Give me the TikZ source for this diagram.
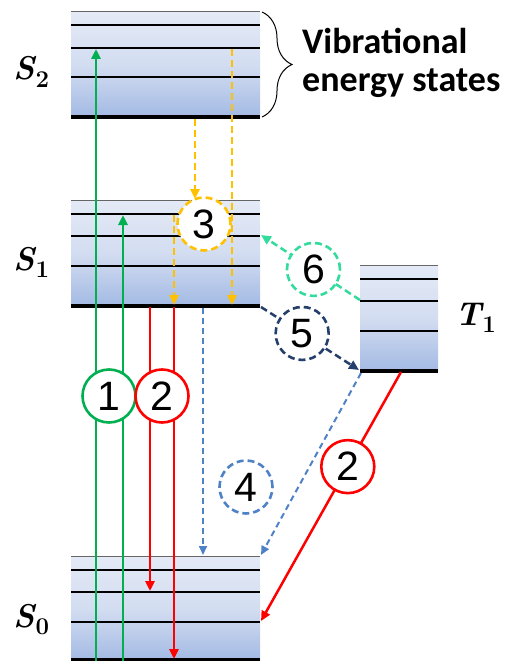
\documentclass[tikz,border=0pt]{standalone}
\usepackage{fontspec}
\setmainfont{Liberation Sans}
\newfontfamily\calib{Carlito}
\newfontfamily\lmr{Latin Modern Roman}
\usetikzlibrary{arrows.meta,decorations.pathreplacing,calc}
\definecolor{cgreen}{HTML}{00B050}
\definecolor{cred}{HTML}{FF0000}
\definecolor{cyel}{HTML}{FFC000}
\definecolor{clblue}{HTML}{4F81C6}
\definecolor{cdblue}{HTML}{243F6B}
\definecolor{cteal}{HTML}{33DC9C}
\definecolor{gtop}{HTML}{E4EAF6}
\definecolor{gmid}{HTML}{D3DDF1}
\definecolor{gbot}{HTML}{A3BAE4}
\newcommand\statename[2]{{\fontsize{33}{33}\selectfont\itshape #1}\kern1pt\raisebox{-7pt}{\fontsize{24}{24}\selectfont #2}}
\tikzset{
  lvlbox/.style={top color=gtop, bottom color=gbot, middle color=gmid, draw=none},
  lvlfaint/.style={line width=1pt, draw=black!60},
  lvlthin/.style={line width=1.4pt, draw=black},
  lvlmid/.style={line width=2.4pt, draw=black},
  lvlbase/.style={line width=3.4pt, draw=black},
  tip/.style={-{Triangle[length=10pt,width=9pt]}},
  solidarrow/.style={tip, line width=2.5pt},
  dasharrow/.style={-{Triangle[length=10pt,width=9pt]}, line width=2.5pt, dash pattern=on 7pt off 4pt},
  thindash/.style={-{Triangle[length=9pt,width=8pt]}, line width=2pt, dash pattern=on 6pt off 4pt},
  numcirc/.style={circle, minimum size=53pt, inner sep=0pt, fill=white, line width=2.6pt, font=\fontsize{41}{41}\selectfont},
  dashcirc/.style={numcirc, dash pattern=on 7pt off 4pt},
  statelab/.style={anchor=base west, inner sep=0pt, font=\lmr\bfseries},
  viblab/.style={anchor=base west, inner sep=0pt, font=\calib\bfseries\fontsize{36}{36}\selectfont},
}
\begin{document}
\begin{tikzpicture}[x=1pt,y=-1pt]
\useasboundingbox (0,0) rectangle (506,661);
% ---------- level blocks ----------
% S2
\shade[lvlbox] (71,12) rectangle (260,117);
\draw[lvlfaint] (71,12) -- (260,12);
\draw[lvlthin] (71,25) -- (260,25);
\draw[lvlmid] (71,48) -- (260,48);
\draw[lvlmid] (71,77) -- (260,77);
\draw[lvlbase] (71,117) -- (260,117);
% S1
\shade[lvlbox] (71,200) rectangle (260,306);
\draw[lvlfaint] (71,200) -- (260,200);
\draw[lvlthin] (71,214) -- (260,214);
\draw[lvlmid] (71,236) -- (260,236);
\draw[lvlmid] (71,266) -- (260,266);
\draw[lvlbase] (71,306) -- (260,306);
% T1
\shade[lvlbox] (360,265) rectangle (438,371);
\draw[lvlfaint] (360,265) -- (438,265);
\draw[lvlthin] (360,279) -- (438,279);
\draw[lvlmid] (360,301) -- (438,301);
\draw[lvlmid] (360,331) -- (438,331);
\draw[lvlbase] (360,371) -- (438,371);
% S0
\shade[lvlbox] (71,556) rectangle (260,661);
\draw[lvlfaint] (71,556) -- (260,556);
\draw[lvlthin] (71,570) -- (260,570);
\draw[lvlmid] (71,592) -- (260,592);
\draw[lvlmid] (71,622) -- (260,622);
\draw[lvlbase] (71,660) -- (260,660);
% ---------- labels ----------
\node[statelab] (s2lab) at (13,80) {\statename{S}{2}};
\node[statelab] (s1lab) at (13,270) {\statename{S}{1}};
\node[statelab] (s0lab) at (13,627) {\statename{S}{0}};
\node[statelab] (t1lab) at (455,325) {\statename{T}{1}};
\node[viblab] (vib1) at (302,53) {Vibrational};
\node[viblab] (vib2) at (302,92) {energy states};
\coordinate (bra) at (262,12);
\coordinate (brb) at (262,117);
\draw[decorate, decoration={brace, amplitude=30pt}, line width=1pt] (bra) -- (brb);
% ---------- coordinates ----------
\coordinate (g1a) at (96,661);   \coordinate (g1b) at (96,49);
\coordinate (g2a) at (123,661);  \coordinate (g2b) at (123,215);
\coordinate (r1a) at (150,307);  \coordinate (r1b) at (150,591);
\coordinate (r2a) at (174,307);  \coordinate (r2b) at (174,659);
\coordinate (y1a) at (195,119);  \coordinate (y1b) at (195,199);
\coordinate (y2a) at (232,49);   \coordinate (y2b) at (232,305);
\coordinate (y3a) at (174,215);  \coordinate (y3b) at (174,305);
\coordinate (b4a) at (203,308);  \coordinate (b4b) at (203,555);
\coordinate (bda) at (361,373);  \coordinate (bdb) at (261,555);
\coordinate (d5a) at (261,307);  \coordinate (d5b) at (359,370);
\coordinate (t6a) at (360,300);  \coordinate (t6b) at (261,235);
\coordinate (rta) at (401,372);  \coordinate (rtb) at (261,621);
% ---------- transitions ----------
\draw[solidarrow, cgreen] (g1a) -- (g1b);
\draw[solidarrow, cgreen] (g2a) -- (g2b);
\draw[solidarrow, cred] (r1a) -- (r1b);
\draw[solidarrow, cred] (r2a) -- (r2b);
\draw[dasharrow, cyel] (y1a) -- (y1b);
\draw[dasharrow, cyel] (y2a) -- (y2b);
\draw[dasharrow, cyel] (y3a) -- (y3b);
\draw[thindash, clblue] (b4a) -- (b4b);
\draw[thindash, clblue] (bda) -- (bdb);
\draw[dasharrow, cdblue] (d5a) -- (d5b);
\draw[dasharrow, cteal] (t6a) -- (t6b);
\draw[solidarrow, cred] (rta) -- (rtb);
% ---------- numbered circles ----------
\node[numcirc, draw=cgreen] (c1) at (109,396) {1};
\node[numcirc, draw=cred] (c2) at (162,396) {2};
\node[dashcirc, draw=cyel] (c3) at (204,224) {3};
\node[dashcirc, draw=clblue] (c4) at (246,487) {4};
\node[dashcirc, draw=cdblue] (c5) at ($(d5a)!0.42!(d5b)$) {5};
\node[dashcirc, draw=cteal] (c6) at ($(t6a)!0.47!(t6b)$) {6};
\node[numcirc, draw=cred] (c7) at ($(rta)!0.38!(rtb)$) {2};
\end{tikzpicture}
\end{document}
